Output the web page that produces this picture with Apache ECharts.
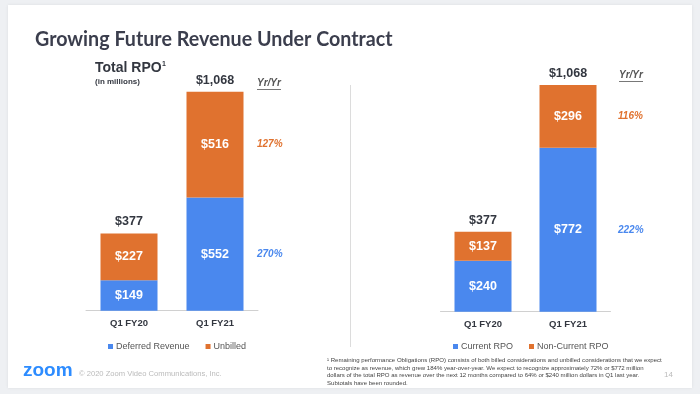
<!DOCTYPE html>
<html><head><meta charset="utf-8">
<script src="https://cdn.jsdelivr.net/npm/echarts@6/dist/echarts.min.js"></script>
<style>html,body{margin:0;padding:0;background:#eef0f3}#c{width:700px;height:394px}</style>
</head><body><div id="c"></div>
<script>
var categories = ['Q1 FY20', 'Q1 FY21'];
var deferredRevenue = [149, 552];
var unbilled = [227, 516];
var leftTotals = [377, 1068];
var leftYoY = ['270%', '127%']; // blue, orange
var currentRPO = [240, 772];
var nonCurrentRPO = [137, 296];
var rightTotals = [377, 1068];
var rightYoY = ['222%', '116%'];

var BLUE = '#4a88ee', ORANGE = '#e0722f', DARK = '#333740';
var F = 'Liberation Sans, Arial, sans-serif';

var chart = echarts.init(document.getElementById('c'), null, {renderer: 'canvas'});

function barSeries(name, data, xi, color) {
  return {
    type: 'bar', name: name, stack: 's' + xi, xAxisIndex: xi, yAxisIndex: xi,
    data: data, barWidth: 57, itemStyle: {color: color},
    label: {show: true, position: 'inside', color: '#fff', fontFamily: F, fontWeight: 'bold', fontSize: 12.5,
      formatter: function (p) { return '$' + p.value; }},
    emphasis: {disabled: true}
  };
}
function totalSeries(totals, xi) {
  return {
    type: 'scatter', xAxisIndex: xi, yAxisIndex: xi, symbolSize: 0, silent: true, itemStyle: {opacity: 1},
    data: totals.map(function (v, i) { return [categories[i], v]; }),
    label: {show: true, position: 'top', distance: 5, color: DARK, fontFamily: F, fontWeight: 'bold', fontSize: 12.5,
      formatter: function (p) { return '$' + p.value[1].toLocaleString('en-US'); }}
  };
}
function yoySeries(lower, upper, yoy, xi, dist) {
  var d = [
    {value: ['Q1 FY21', lower[1] / 2], label: {color: BLUE}, name: yoy[0]},
    {value: ['Q1 FY21', lower[1] + upper[1] / 2], label: {color: ORANGE}, name: yoy[1]}
  ];
  return {
    type: 'scatter', xAxisIndex: xi, yAxisIndex: xi, symbolSize: 0, silent: true, itemStyle: {opacity: 1}, data: d,
    label: {show: true, position: 'right', distance: dist, fontFamily: F, fontWeight: 'bold', fontStyle: 'italic', fontSize: 10,
      formatter: function (p) { return p.name; }}
  };
}
function xAx(gi) {
  return {type: 'category', gridIndex: gi, data: categories,
    axisLine: {lineStyle: {color: '#d0d0d0', width: 1}}, axisTick: {show: false},
    axisLabel: {color: DARK, fontFamily: F, fontWeight: 'bold', fontSize: 9.5, margin: 8}};
}
function yAx(gi) {
  return {type: 'value', gridIndex: gi, min: 0, max: 1200, show: false, splitLine: {show: false}};
}

var footnote = [
  '¹ Remaining performance Obligations (RPO) consists of both billed considerations and unbilled considerations that we expect',
  'to recognize as revenue, which grew 184% year-over-year. We expect to recognize approximately 72% or $772 million',
  'dollars of the total RPO as revenue over the next 12 months compared to 64% or $240 million dollars in Q1 last year.',
  'Subtotals have been rounded.'
];

chart.setOption({
  backgroundColor: '#eef0f3',
  animation: false,
  grid: [
    {left: 86, width: 172, top: 64.7, bottom: 83.3},
    {left: 440.5, width: 170, top: 57, bottom: 82.3}
  ],
  xAxis: [xAx(0), xAx(1)],
  yAxis: [yAx(0), yAx(1)],
  legend: [
    {data: ['Deferred Revenue', 'Unbilled'], left: 103, top: 337, icon: 'rect', itemWidth: 5, itemHeight: 5, itemGap: 16,
      textStyle: {color: '#555', fontFamily: F, fontSize: 9, padding: [0, 0, 0, -2]}, selectedMode: false},
    {data: ['Current RPO', 'Non-Current RPO'], left: 448, top: 337, icon: 'rect', itemWidth: 5, itemHeight: 5, itemGap: 16,
      textStyle: {color: '#555', fontFamily: F, fontSize: 9, padding: [0, 0, 0, -2]}, selectedMode: false}
  ],
  series: [
    barSeries('Deferred Revenue', deferredRevenue, 0, BLUE),
    barSeries('Unbilled', unbilled, 0, ORANGE),
    totalSeries(leftTotals, 0),
    yoySeries(deferredRevenue, unbilled, leftYoY, 0, 42),
    barSeries('Current RPO', currentRPO, 1, BLUE),
    barSeries('Non-Current RPO', nonCurrentRPO, 1, ORANGE),
    totalSeries(rightTotals, 1),
    yoySeries(currentRPO, nonCurrentRPO, rightYoY, 1, 50)
  ],
  graphic: [
    {type: 'rect', z: -10, shape: {x: 8, y: 5, width: 684, height: 383}, style: {fill: '#fff', shadowBlur: 3, shadowColor: 'rgba(0,0,0,0.08)'}},
    {type: 'text', x: 35, y: 29, scaleX: 0.937, style: {text: 'Growing Future Revenue Under Contract', fill: '#3b3e4d',
      font: 'bold 21px Lato, sans-serif'}},
    {type: 'text', left: 95, top: 61, style: {text: 'Total RPO', fill: DARK, font: 'bold 14px ' + F}},
    {type: 'text', left: 162, top: 61, style: {text: '1', fill: DARK, font: 'bold 7px ' + F}},
    {type: 'text', left: 95, top: 78, style: {text: '(in millions)', fill: DARK, font: 'bold 8px ' + F}},
    {type: 'text', left: 257, top: 78, style: {text: 'Yr/Yr', fill: '#555', font: 'italic bold 10px ' + F}},
    {type: 'line', shape: {x1: 257, y1: 89.5, x2: 281, y2: 89.5}, style: {stroke: '#555', lineWidth: 0.8}},
    {type: 'text', left: 619, top: 70, style: {text: 'Yr/Yr', fill: '#555', font: 'italic bold 10px ' + F}},
    {type: 'line', shape: {x1: 619, y1: 81.5, x2: 643, y2: 81.5}, style: {stroke: '#555', lineWidth: 0.8}},
    {type: 'line', shape: {x1: 350.5, y1: 85, x2: 350.5, y2: 347}, style: {stroke: '#dcdcdc', lineWidth: 1}},
    {type: 'text', left: 327, top: 357, style: {text: footnote.join('\n'), fill: '#444', font: '6.05px ' + F, lineHeight: 7.4}},
    {type: 'text', left: 664, top: 371, style: {text: '14', fill: '#bbb', font: '8px ' + F}},
    {type: 'text', left: 23, top: 361, style: {text: 'zoom', fill: '#2d8cff', font: 'bold 19px ' + F}},
    {type: 'text', left: 79, top: 370, style: {text: '© 2020 Zoom Video Communications, Inc.', fill: '#bbb', font: '7.6px ' + F}}
  ]
});
</script></body></html>
